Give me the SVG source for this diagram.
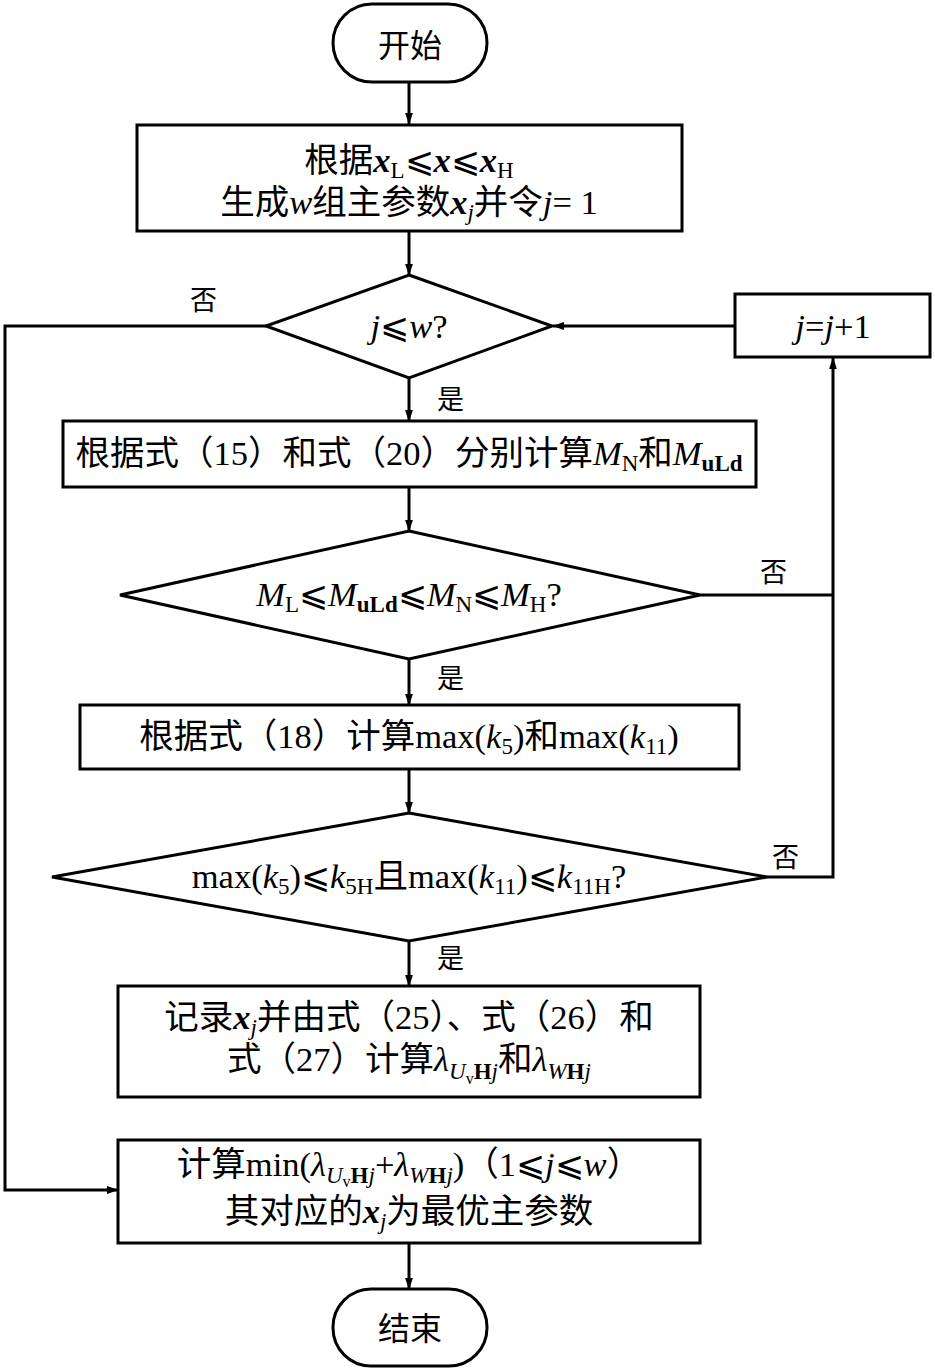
<svg xmlns="http://www.w3.org/2000/svg" width="935" height="1371" viewBox="0 0 935 1371">
<defs>
<marker id="ah" markerWidth="12" markerHeight="18" refX="17" refY="6" viewBox="0 0 18 12" markerUnits="userSpaceOnUse" orient="auto">
<path d="M0,0 L18,6 L0,12 Z" fill="#000"/>
</marker>
<style>
.s{fill:#fff;stroke:#000;stroke-width:3}
.c{fill:none;stroke:#000;stroke-width:3}
.t{font-family:"Liberation Serif","Noto Sans CJK SC",serif;font-size:34.5px;fill:#000;text-anchor:middle}
.l{font-family:"Noto Sans CJK SC",sans-serif;font-size:27px;fill:#000}
.i{font-style:italic}
.b{font-weight:bold}
.sb{font-size:23px}
.ss{font-size:16px}
</style>
</defs>
<rect width="935" height="1371" fill="#fff"/>
<g id="connectors">
<path class="c" d="M409,82 V124" marker-end="url(#ah)"/>
<path class="c" d="M409,231 V275" marker-end="url(#ah)"/>
<path class="c" d="M409,378 V421" marker-end="url(#ah)"/>
<path class="c" d="M409,487 V531" marker-end="url(#ah)"/>
<path class="c" d="M409,659 V705" marker-end="url(#ah)"/>
<path class="c" d="M409,769 V813" marker-end="url(#ah)"/>
<path class="c" d="M409,941 V986" marker-end="url(#ah)"/>
<path class="c" d="M409,1243 V1289" marker-end="url(#ah)"/>
<path class="c" d="M266,326 H5 V1190 H118" marker-end="url(#ah)"/>
<path class="c" d="M735,326 H553" marker-end="url(#ah)"/>
<path class="c" d="M700,595 H833"/>
<path class="c" d="M767,877 H833 V358" marker-end="url(#ah)"/>
<text class="l" x="190" y="310">否</text>
<text class="l" x="437" y="409">是</text>
<text class="l" x="760" y="582">否</text>
<text class="l" x="437" y="688">是</text>
<text class="l" x="772" y="867">否</text>
<text class="l" x="437" y="968">是</text>
</g>
<g id="start">
<rect class="s" x="333" y="4" width="154" height="78" rx="39" ry="39"/>
<text class="t" x="410" y="57" style="font-family:'Noto Sans CJK SC',sans-serif;font-size:32px">开始</text>
</g>
<g id="init">
<rect class="s" x="137" y="125" width="545" height="106"/>
<text class="t" x="409" y="172">根据<tspan class="b i">x</tspan><tspan class="sb" dy="6">L</tspan><tspan dy="-6">⩽</tspan><tspan class="b i">x</tspan>⩽<tspan class="b i">x</tspan><tspan class="sb" dy="6">H</tspan></text>
<text class="t" x="409" y="214">生成<tspan class="i">w</tspan>组主参数<tspan class="b i">x</tspan><tspan class="sb i" dy="6">j</tspan><tspan dy="-6">并令</tspan><tspan class="i">j</tspan>= 1</text>
</g>
<g id="cond-j">
<polygon class="s" points="409,275 552,326 409,378 266,326"/>
<text class="t" x="409" y="338"><tspan class="i">j</tspan>⩽<tspan class="i">w</tspan>?</text>
</g>
<g id="incr">
<rect class="s" x="735" y="294" width="195" height="63"/>
<text class="t" x="833" y="338"><tspan class="i">j</tspan>=<tspan class="i">j</tspan>+1</text>
</g>
<g id="calc-m">
<rect class="s" x="63" y="421" width="693" height="66"/>
<text class="t" x="409" y="465">根据式（15）和式（20）分别计算<tspan class="i">M</tspan><tspan class="sb" dy="6">N</tspan><tspan dy="-6">和</tspan><tspan class="i">M</tspan><tspan class="sb b" dy="6">uLd</tspan></text>
</g>
<g id="cond-m">
<polygon class="s" points="409,531 700,595 409,659 120,595"/>
<text class="t" x="409" y="606"><tspan class="i">M</tspan><tspan class="sb" dy="6">L</tspan><tspan dy="-6">⩽</tspan><tspan class="i">M</tspan><tspan class="sb b" dy="6">uLd</tspan><tspan dy="-6">⩽</tspan><tspan class="i">M</tspan><tspan class="sb" dy="6">N</tspan><tspan dy="-6">⩽</tspan><tspan class="i">M</tspan><tspan class="sb" dy="6">H</tspan><tspan dy="-6">?</tspan></text>
</g>
<g id="calc-k">
<rect class="s" x="80" y="705" width="659" height="64"/>
<text class="t" x="409" y="748">根据式（18）计算max(<tspan class="i">k</tspan><tspan class="sb" dy="6">5</tspan><tspan dy="-6">)和max(</tspan><tspan class="i">k</tspan><tspan class="sb" dy="6">11</tspan><tspan dy="-6">)</tspan></text>
</g>
<g id="cond-k">
<polygon class="s" points="409,813 767,877 409,941 52,877"/>
<text class="t" x="409" y="888">max(<tspan class="i">k</tspan><tspan class="sb" dy="6">5</tspan><tspan dy="-6">)⩽</tspan><tspan class="i">k</tspan><tspan class="sb" dy="6">5H</tspan><tspan dy="-6">且max(</tspan><tspan class="i">k</tspan><tspan class="sb" dy="6">11</tspan><tspan dy="-6">)⩽</tspan><tspan class="i">k</tspan><tspan class="sb" dy="6">11H</tspan><tspan dy="-6">?</tspan></text>
</g>
<g id="record">
<rect class="s" x="118" y="986" width="582" height="111"/>
<text class="t" x="409" y="1029">记录<tspan class="b i">x</tspan><tspan class="sb i" dy="6">j</tspan><tspan dy="-6">并由式（25）、式（26）和</tspan></text>
<text class="t" x="409" y="1071">式（27）计算<tspan class="i">λ</tspan><tspan class="sb i" dy="8">U</tspan><tspan class="ss" dy="5">v</tspan><tspan class="sb b" dy="-5">H</tspan><tspan class="sb i">j</tspan><tspan dy="-8">和</tspan><tspan class="i">λ</tspan><tspan class="sb i" dy="8">W</tspan><tspan class="sb b">H</tspan><tspan class="sb i">j</tspan></text>
</g>
<g id="optimum">
<rect class="s" x="118" y="1140" width="582" height="103"/>
<text class="t" x="409" y="1176">计算min(<tspan class="i">λ</tspan><tspan class="sb i" dy="7">U</tspan><tspan class="ss" dy="4">v</tspan><tspan class="sb b" dy="-4">H</tspan><tspan class="sb i">j</tspan><tspan dy="-7">+</tspan><tspan class="i">λ</tspan><tspan class="sb i" dy="7">W</tspan><tspan class="sb b">H</tspan><tspan class="sb i">j</tspan><tspan dy="-7">)（1⩽</tspan><tspan class="i">j</tspan>⩽<tspan class="i">w</tspan>）</text>
<text class="t" x="409" y="1223">其对应的<tspan class="b i">x</tspan><tspan class="sb i" dy="6">j</tspan><tspan dy="-6">为最优主参数</tspan></text>
</g>
<g id="end">
<rect class="s" x="333" y="1289" width="154" height="77" rx="38" ry="38"/>
<text class="t" x="410" y="1340" style="font-family:'Noto Sans CJK SC',sans-serif;font-size:32px">结束</text>
</g>
</svg>
